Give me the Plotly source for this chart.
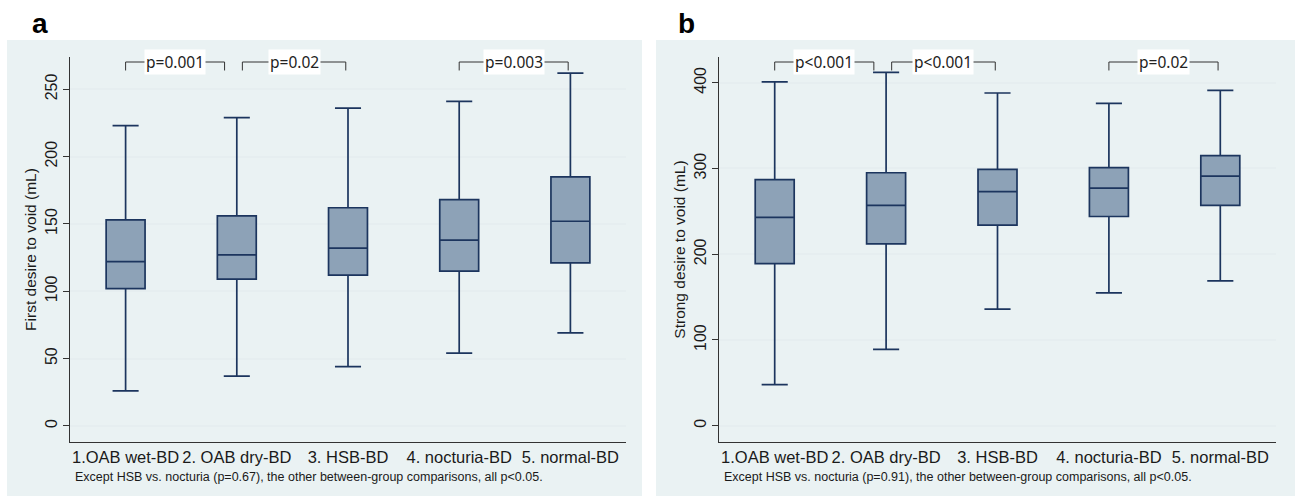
import plotly.graph_objects as go

# ---------------- data ----------------
categories = ["1.OAB wet-BD", "2. OAB dry-BD", "3. HSB-BD", "4. nocturia-BD", "5. normal-BD"]

# Panel a: First desire to void (mL)
a_lower = [26, 37, 44, 54, 69]
a_q1 = [102, 109, 112, 115, 121]
a_median = [122, 127, 132, 138, 152]
a_q3 = [153, 156, 162, 168, 185]
a_upper = [223, 229, 236, 241, 262]

# Panel b: Strong desire to void (mL)
b_lower = [48, 89, 136, 155, 169]
b_q1 = [189, 212, 234, 244, 257]
b_median = [243, 257, 273, 277, 291]
b_q3 = [287, 295, 299, 301, 315]
b_upper = [401, 412, 388, 376, 391]

a_ticks = [0, 50, 100, 150, 200, 250]
b_ticks = [0, 100, 200, 300, 400]

a_brackets = [(1, 2, "p=0.001"), (2, 3, "p=0.02"), (4, 5, "p=0.003")]
b_brackets = [(1, 2, "p<0.001"), (2, 3, "p<0.001"), (4, 5, "p=0.02")]

a_title = "First desire to void (mL)"
b_title = "Strong desire to void (mL)"
a_note = "Except HSB vs. nocturia (p=0.67), the other between-group comparisons, all p<0.05."
b_note = "Except HSB vs. nocturia (p=0.91), the other between-group comparisons, all p<0.05."

# ---------------- style ----------------
W, H = 1295, 496
BOX_FILL = "#8DA2B7"
BOX_LINE = "#1C355E"
PANEL_BG = "#EAF2F3"
GRID = "#E6EEF0"
AXIS = "#333333"
FONT = "Liberation Sans, Arial, sans-serif"

fig = go.Figure()

def px_x(v):
    return v / W

def px_y(v):
    return 1 - v / H

panels = [
    dict(x="x", y="y", xa="xaxis", ya="yaxis", lo=a_lower, q1=a_q1, med=a_median, q3=a_q3,
         up=a_upper, ticks=a_ticks, rng=[-12, 274], title=a_title, note=a_note,
         brackets=a_brackets, dom=(70, 626), bg=(7, 642), letter="a", letter_x=40),
    dict(x="x2", y="y2", xa="xaxis2", ya="yaxis2", lo=b_lower, q1=b_q1, med=b_median, q3=b_q3,
         up=b_upper, ticks=b_ticks, rng=[-19, 430], title=b_title, note=b_note,
         brackets=b_brackets, dom=(719, 1276), bg=(656, 1295), letter="b", letter_x=686),
]

shapes = []
annotations = []
layout_axes = {}

for p in panels:
    fig.add_trace(go.Box(
        x=categories, q1=p["q1"], median=p["med"], q3=p["q3"],
        lowerfence=p["lo"], upperfence=p["up"],
        xaxis=p["x"], yaxis=p["y"],
        fillcolor=BOX_FILL, line=dict(color=BOX_LINE, width=1.7),
        whiskerwidth=0.67, boxpoints=False, showlegend=False, hoverinfo="skip",
    ))
    # grey panel background
    shapes.append(dict(type="rect", xref="paper", yref="paper",
                       x0=px_x(p["bg"][0]), x1=px_x(p["bg"][1]),
                       y0=0, y1=px_y(40), fillcolor=PANEL_BG, line=dict(width=0),
                       layer="below"))
    layout_axes[p["xa"]] = dict(
        domain=[px_x(p["dom"][0]), px_x(p["dom"][1])],
        anchor=p["y"], type="category", range=[-0.5, 4.5],
        showline=True, linecolor=AXIS, linewidth=1, ticks="",
        tickfont=dict(family=FONT, size=16.5, color="#1a1a1a"),
        showgrid=False, zeroline=False, fixedrange=True,
    )
    layout_axes[p["ya"]] = dict(
        domain=[px_y(442), px_y(57)], anchor=p["x"], range=p["rng"],
        tickvals=p["ticks"], tickangle=-90, ticks="outside", ticklen=6,
        tickcolor=AXIS, showline=True, linecolor=AXIS, linewidth=1,
        showgrid=True, gridcolor=GRID, gridwidth=1.6, zeroline=False,
        tickfont=dict(family=FONT, size=16, color="#1a1a1a"),
        title=dict(text=p["title"], font=dict(family=FONT, size=15.5, color="#1a1a1a"), standoff=2),
        fixedrange=True,
    )
    # significance brackets
    span = p["rng"][1] - p["rng"][0]
    y_top = p["rng"][1] - 0.013 * span
    y_bot = y_top - 0.022 * span
    ends = [b[1] for b in p["brackets"]]
    starts = [b[0] for b in p["brackets"]]
    for i, j, lab in p["brackets"]:
        left = (i - 1) + (0.05 if i in ends else 0.0)
        right = (j - 1) - (0.11 if j in starts else 0.02)
        path = "M {} {} L {} {} L {} {} L {} {}".format(left, y_bot, left, y_top, right, y_top, right, y_bot)
        shapes.append(dict(type="path", path=path, xref=p["x"], yref=p["y"],
                           line=dict(color="#333333", width=1)))
        annotations.append(dict(x=(left + right) / 2, y=y_top, xref=p["x"], yref=p["y"],
                                text=lab, showarrow=False, bgcolor="white", borderpad=1,
                                font=dict(family="Noto Sans, sans-serif", size=15.5, color="#222222")))
    # note under the axis
    annotations.append(dict(x=px_x(p["dom"][0] + 3), y=px_y(477), xref="paper", yref="paper",
                            xanchor="left", yanchor="middle", text=p["note"], showarrow=False,
                            font=dict(family="Liberation Sans Narrow, Arial Narrow, Arial, sans-serif",
                                      size=12.5, color="#1a1a1a")))
    # panel letter
    annotations.append(dict(x=px_x(p["letter_x"]), y=px_y(24), xref="paper", yref="paper",
                            xanchor="center", yanchor="middle", text="<b>" + p["letter"] + "</b>",
                            showarrow=False, font=dict(family="Liberation Sans, Arial, sans-serif",
                                                       size=28, color="black")))

fig.update_layout(
    width=W, height=H, margin=dict(l=0, r=0, t=0, b=0),
    paper_bgcolor="white", plot_bgcolor="white", boxgap=0.5,
    shapes=shapes, annotations=annotations, showlegend=False,
    **layout_axes,
)

fig.write_html("out.html", config={"displayModeBar": False},
               post_script="document.body.style.margin='0';document.body.style.overflow='hidden';")
